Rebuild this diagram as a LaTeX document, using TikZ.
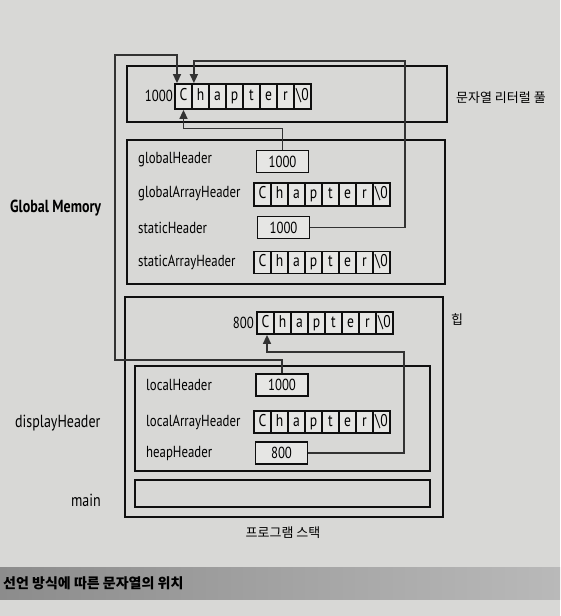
\documentclass[tikz,border=0pt]{standalone}
\usepackage{fontspec}
\setmainfont{PT Sans}[FakeStretch=0.8]
\newfontfamily\kr{Noto Sans CJK KR}
\usetikzlibrary{arrows.meta,calc}
\definecolor{bg}{RGB}{216,216,214}
\definecolor{cellbg}{RGB}{230,230,228}
\definecolor{ln}{RGB}{15,15,15}
\definecolor{cn}{RGB}{50,50,50}
\definecolor{barL}{RGB}{140,140,140}
\definecolor{barR}{RGB}{185,185,185}
\newcommand\strrow[4]{%
  \foreach \ch [count=\i] in {C,h,a,p,t,e,r,{\textbackslash 0}}{%
    \node[cell,minimum height=#4] (#1-\i) at ({#2+(\i-0.5)*17},#3) {\ch};}}
\begin{document}
\begin{tikzpicture}[x=1pt,y=-1pt,
  box/.style={draw=ln,line width=2.4pt,inner sep=0pt},
  cell/.style={draw=ln,fill=cellbg,line width=1.8pt,minimum width=17pt,inner sep=0pt,
    font=\fontsize{17}{17}\selectfont,text height=11.5pt,text depth=3pt},
  val/.style={draw=ln,fill=cellbg,line width=1.8pt,minimum width=52pt,minimum height=22pt,
    inner sep=0pt,font=\fontsize{16}{16}\selectfont},
  lbl/.style={anchor=west,inner sep=0pt,font=\fontsize{16}{16}\selectfont},
  krl/.style={inner sep=0pt,font=\kr\fontsize{13}{13}\selectfont},
  conn/.style={draw=cn,line width=1.6pt,-{Triangle[width=8pt,length=9pt]}}]
\useasboundingbox (0,0) rectangle (560,616);
\fill[bg] (0,0) rectangle (560,616);
% caption bar
\shade[left color=barL,right color=barR] (0,567) rectangle (560,599);
\node[anchor=west,inner sep=0pt,font=\kr\bfseries\fontsize{14}{14}\selectfont] (cap) at (3,583) {선언 방식에 따른 문자열의 위치};
% big boxes
\node[box,minimum width=320pt,minimum height=56pt] (pool) at (287,94) {};
\node[box,minimum width=318pt,minimum height=144pt] (glob) at (286,212) {};
\node[box,minimum width=318pt,minimum height=220pt] (hs) at (284,407) {};
\node[box,minimum width=295pt,minimum height=105pt] (disp) at (282.5,418.5) {};
\node[box,minimum width=295pt,minimum height=27pt] (mainbox) at (282.5,493.5) {};
% outside labels
\node[krl,anchor=west] (kpool) at (456,98) {문자열 리터럴 풀};
\node[krl] (kheap) at (457,320) {힙};
\node[krl] (kstack) at (283,533) {프로그램 스택};
\node[lbl,font=\bfseries\fontsize{17.5}{17.5}\selectfont] (gm) at (10,208) {Global Memory};
\node[lbl,font=\fontsize{17.5}{17.5}\selectfont] (dh) at (15,423) {displayHeader};
\node[lbl,anchor=east,font=\fontsize{17.5}{17.5}\selectfont] (mn) at (101,500) {main};
% literal pool
\node[lbl,anchor=east] (n1000) at (173,96) {1000};
\strrow{lit}{175}{96.5}{25pt}
% global memory
\node[lbl] (lgH) at (138,160) {globalHeader};
\node[val] (gH) at (282.5,161.5) {1000};
\node[lbl] (lgA) at (138,194) {globalArrayHeader};
\strrow{garr}{254}{194.5}{23pt}
\node[lbl] (lsH) at (138,228) {staticHeader};
\node[val] (sH) at (283.5,227.5) {1000};
\node[lbl] (lsA) at (138,262) {staticArrayHeader};
\strrow{sarr}{254}{262.5}{22pt}
% heap
\node[lbl,anchor=east] (n800) at (254,323) {800};
\strrow{hp}{257}{323}{22pt}
% displayHeader frame
\node[lbl] (llH) at (146,385) {localHeader};
\node[val] (lH) at (282,385) {1000};
\node[lbl] (llA) at (146,422) {localArrayHeader};
\strrow{larr}{254}{422}{22pt}
\node[lbl] (lhH) at (146,453) {heapHeader};
\node[val] (hH) at (281.5,453) {800};
% connectors
\draw[conn] (lH.north) |- (115,360) -- (115,55) -| ($(lit-1.north)+(-6.5,0)$);
\draw[conn] (sH.east) -| (405,61) -| ($(lit-1.north east)+(1,0)$);
\draw[conn] (gH.north) -- ++(0,-21) -| (lit-1.south);
\draw[conn] (hH.east) -| (404,352) -| ($(hp-1.south)+(1.5,0)$);
\end{tikzpicture}
\end{document}
